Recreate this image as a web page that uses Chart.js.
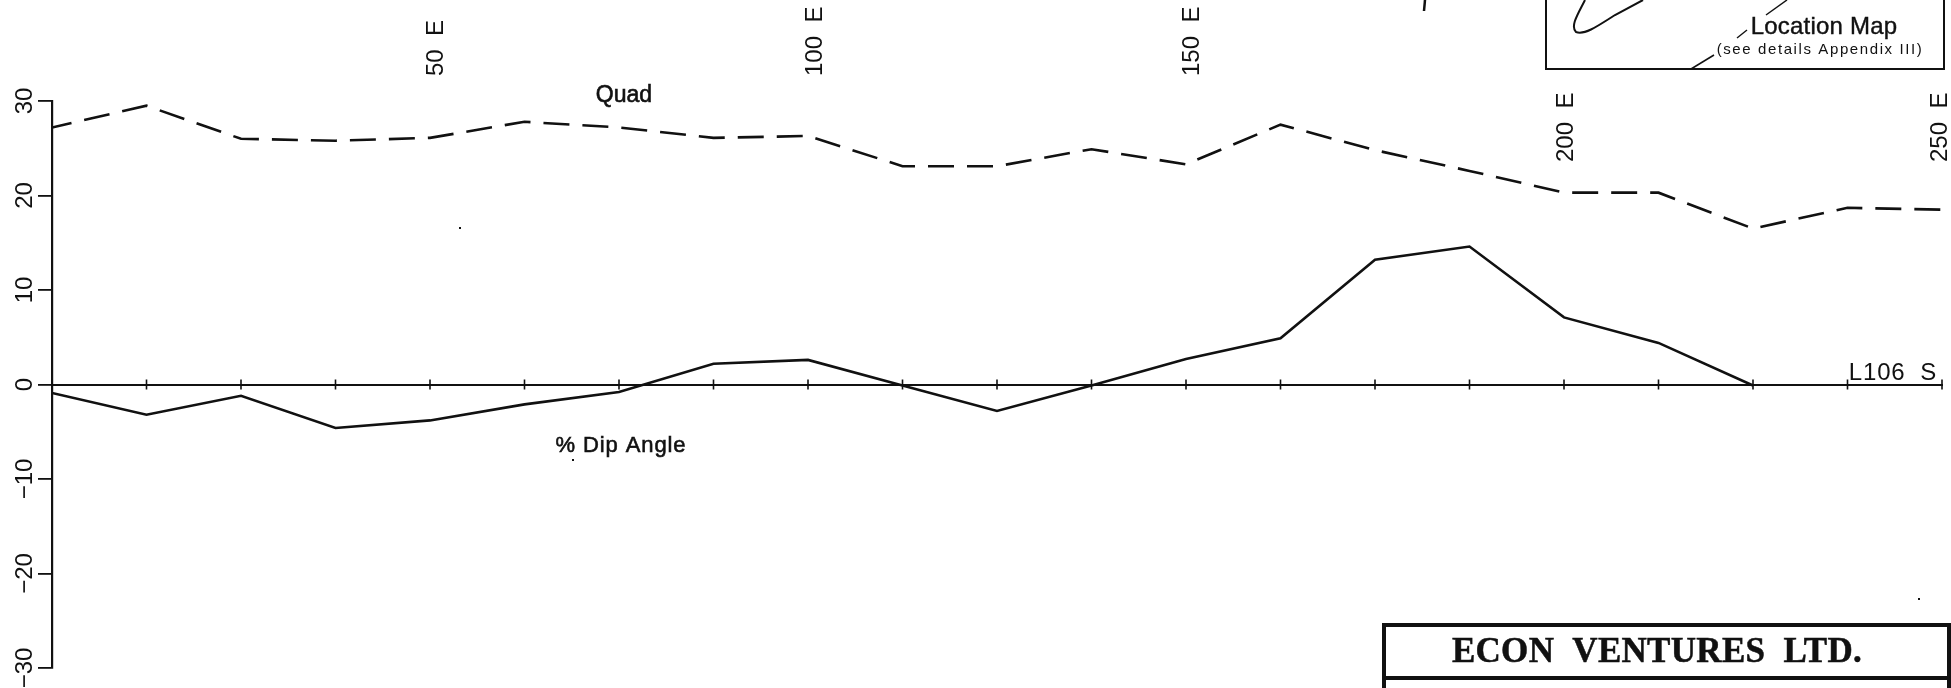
<!DOCTYPE html>
<html>
<head>
<meta charset="utf-8">
<title>L106 S profile</title>
<style>
  html, body { margin: 0; padding: 0; background: #fff; overflow: hidden; }
  #chart-wrap { position: relative; width: 1951px; height: 688px; }
  #profile-chart { filter: blur(0.45px); }
</style>
<script src="https://cdn.jsdelivr.net/npm/chart.js@4"></script>
</head>
<body>
<div id="chart-wrap"><canvas id="profile-chart"></canvas></div>
<script>
// stations along the line, metres east
const stations = [0, 12.5, 25, 37.5, 50, 62.5, 75, 87.5, 100, 112.5, 125, 137.5, 150, 162.5, 175, 187.5, 200, 212.5, 225, 237.5, 250];
const quadValues = [27.2, 29.5, 26.0, 25.8, 26.1, 27.8, 27.2, 26.1, 26.3, 23.1, 23.1, 24.9, 23.3, 27.5, 24.8, 22.6, 20.3, 20.3, 16.5, 18.7, 18.5];
const dipValues = [-0.9, -3.2, -1.2, -4.6, -3.8, -2.1, -0.8, 2.2, 2.6, -0.1, -2.8, -0.1, 2.7, 4.9, 13.2, 14.6, 7.1, 4.4, -0.1];
const yTickValues = [30, 20, 10, 0, -10, -20, -30];
const yTickLabels = ['30', '20', '10', '0', '\u221210', '\u221220', '\u221230'];
const stationLabels = ['50  E', '100  E', '150  E', '200  E', '250  E'];
const stationLabelValues = [50, 100, 150, 200, 250];

const INK = '#111';
const SANS = '"Liberation Sans", Arial, sans-serif';

function toPoints(values) {
  return values.map((v, i) => ({ x: stations[i], y: v }));
}

function rotatedText(ctx, text, x, y, align) {
  ctx.save();
  ctx.translate(x, y);
  ctx.rotate(-Math.PI / 2);
  ctx.textAlign = align;
  ctx.textBaseline = 'middle';
  ctx.fillText(text, 0, 0);
  ctx.restore();
}

function plainText(ctx, text, x, y, font, spacing, heavy) {
  ctx.font = font;
  ctx.letterSpacing = spacing || '0px';
  ctx.textAlign = 'center';
  ctx.textBaseline = 'middle';
  ctx.fillText(text, x, y);
  if (heavy) {
    ctx.lineWidth = heavy;
    ctx.strokeText(text, x, y);
  }
  ctx.letterSpacing = '0px';
}

function strokePath(ctx, pts, width) {
  ctx.lineWidth = width;
  ctx.beginPath();
  pts.forEach((p, i) => i ? ctx.lineTo(p[0], p[1]) : ctx.moveTo(p[0], p[1]));
  ctx.stroke();
}

// sideways nudge of the station labels from their ticks
function labelNudge(v) {
  if (v === 250) return -2;
  if (v === 200) return 2;
  return v === 100 ? 7 : 6;
}

// axis tick labels, straddling ticks and the map/title blocks
const sheetPlugin = {
  id: 'sheet',
  afterDraw(chart) {
    const ctx = chart.ctx;
    const xs = chart.scales.x;
    const ys = chart.scales.y;
    const zero = ys.getPixelForValue(0);
    ctx.save();
    ctx.fillStyle = INK;
    ctx.strokeStyle = INK;

    // ticks on the survey line
    ctx.lineWidth = 1.6;
    xs.ticks.forEach(t => {
      const px = xs.getPixelForValue(t.value);
      ctx.beginPath();
      ctx.moveTo(px, zero - 5);
      ctx.lineTo(px, zero + 5);
      ctx.stroke();
    });

    // rotated y labels
    ctx.font = '24px ' + SANS;
    yTickValues.forEach((v, i) => {
      rotatedText(ctx, yTickLabels[i], 25, ys.getPixelForValue(v), 'center');
    });

    // rotated station labels, the last two sit lower on the sheet
    stationLabels.forEach((label, i) => {
      const v = stationLabelValues[i];
      const bottom = v >= 200 ? 162 : 76;
      rotatedText(ctx, label, xs.getPixelForValue(v) + labelNudge(v), bottom, 'left');
    });

    plainText(ctx, 'Quad', 624, 95.5, '23px ' + SANS, '0px', 0.6);
    plainText(ctx, '% Dip Angle', 621, 446, '22px ' + SANS, '0.9px', 0.6);
    plainText(ctx, 'L106  S', 1893, 373, '24px ' + SANS, '0.8px');

    // location map box
    strokePath(ctx, [[1546, 0], [1546, 69], [1944, 69], [1944, 0]], 2);
    ctx.lineWidth = 2;
    ctx.beginPath();
    ctx.moveTo(1585, 0);
    ctx.bezierCurveTo(1578, 14, 1570, 26, 1576, 32);
    ctx.bezierCurveTo(1584, 35, 1595, 28, 1615, 15);
    ctx.lineTo(1643, 0);
    ctx.stroke();
    strokePath(ctx, [[1787, 0], [1766, 15]], 1.5);
    strokePath(ctx, [[1747, 30], [1737, 38]], 1.5);
    strokePath(ctx, [[1714, 55], [1691, 69]], 1.5);
    strokePath(ctx, [[1425, 0], [1424, 11]], 2.5);
    plainText(ctx, 'Location Map', 1824, 27, '24px ' + SANS, '0.2px', 0.4);
    plainText(ctx, '(see details Appendix III)', 1820, 50, '15px ' + SANS, '1.6px');

    // title block
    strokePath(ctx, [[1384, 688], [1384, 625], [1949, 625], [1949, 688]], 4);
    strokePath(ctx, [[1384, 678], [1949, 678]], 4);
    plainText(ctx, 'ECON  VENTURES  LTD.', 1657, 653, 'bold 35px "Liberation Serif", serif', '0.3px', 0.5);

    // stray specks on the scan
    ctx.fillRect(459, 227, 2, 2);
    ctx.fillRect(572, 459, 2, 2);
    ctx.fillRect(1918, 598, 2, 2);
    ctx.restore();
  }
};

new Chart(document.getElementById('profile-chart').getContext('2d'), {
  type: 'line',
  data: {
    datasets: [
      {
        label: 'Quad',
        data: toPoints(quadValues),
        borderColor: INK,
        borderWidth: 2.6,
        borderDash: [26, 13],
        borderDashOffset: 6,
        pointRadius: 0,
        tension: 0
      },
      {
        label: '% Dip Angle',
        data: toPoints(dipValues),
        borderColor: INK,
        borderWidth: 2.6,
        pointRadius: 0,
        tension: 0
      }
    ]
  },
  options: {
    responsive: true,
    maintainAspectRatio: false,
    animation: false,
    layout: { padding: { left: 38, right: 9, top: 101, bottom: 20 } },
    plugins: { legend: { display: false }, tooltip: { enabled: false } },
    scales: {
      x: {
        type: 'linear',
        position: { y: 0 },
        min: 0,
        max: 250,
        ticks: { display: false, stepSize: 12.5 },
        grid: { display: true, drawOnChartArea: false, drawTicks: false },
        border: { display: true, color: INK, width: 2 },
        afterFit(scale) { scale.height = 0; }
      },
      y: {
        min: -30,
        max: 30,
        ticks: { display: false, stepSize: 10 },
        grid: { drawOnChartArea: false, drawTicks: true, tickLength: 14, color: INK, lineWidth: 1.8 },
        border: { display: true, color: INK, width: 2.2 },
        afterFit(scale) { scale.width = 14; }
      }
    }
  },
  plugins: [sheetPlugin]
});
</script>
</body>
</html>
